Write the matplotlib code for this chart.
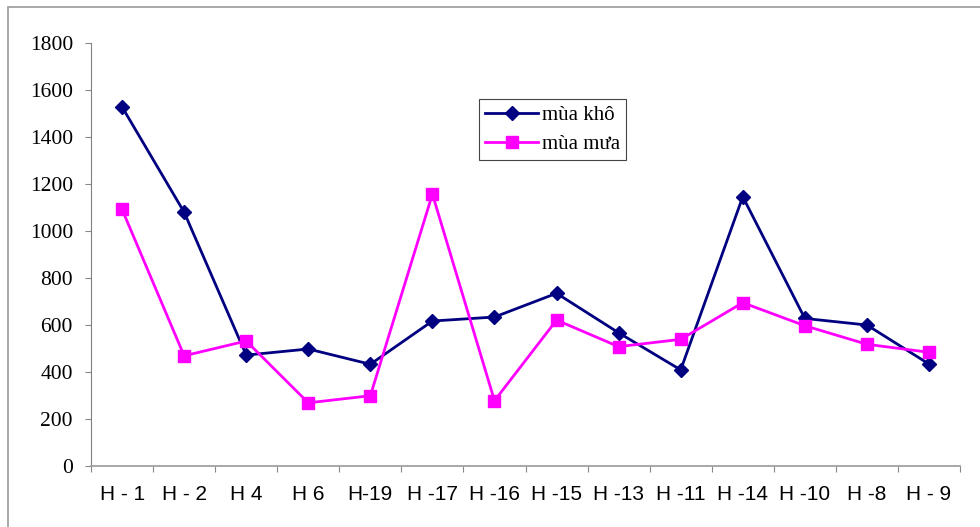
import numpy as np
import matplotlib.pyplot as plt
from matplotlib.patches import Rectangle

stations = ['H - 1', 'H - 2', 'H 4', 'H 6', 'H-19', 'H -17', 'H -16',
            'H -15', 'H -13', 'H -11', 'H -14', 'H -10', 'H -8', 'H - 9']
dry_season = [1528, 1080, 472, 498, 433, 617, 634, 735, 567, 409, 1146, 628, 600, 434]
wet_season = [1092, 469, 532, 269, 299, 1157, 278, 621, 508, 539, 695, 597, 518, 484]
y_ticks = [0, 200, 400, 600, 800, 1000, 1200, 1400, 1600, 1800]

fig = plt.figure(figsize=(9.8, 5.27), dpi=100)
ax = fig.add_axes([0.0929, 0.1157, 0.8867, 0.8027])

# outer frame of the chart area, only top and left edges fall inside
fig.patches.append(Rectangle((8 / 980, -0.1), 1.2, 1 - 7 / 527 + 0.1,
                             transform=fig.transFigure, fill=False,
                             edgecolor='#9a9a9a', linewidth=1.2))

x = np.arange(len(stations)) + 0.5
ax.plot(x, dry_season, color='#000080', linewidth=2, marker='D',
        markersize=7.5, label='mùa khô')
ax.plot(x, wet_season, color='#ff00ff', linewidth=2, marker='s',
        markersize=8, label='mùa mưa')

ax.set_xlim(0, len(stations))
ax.set_ylim(0, 1800)
ax.set_yticks(y_ticks)
ax.set_yticklabels([str(v) for v in y_ticks], family='Liberation Serif', fontsize=15.5)

ax.set_xticks(np.arange(len(stations) + 1))
ax.set_xticklabels([])
ax.set_xticks(x, minor=True)
ax.set_xticklabels(stations, minor=True, family='Liberation Sans', fontsize=15)
ax.tick_params(axis='x', which='major', direction='out', length=4, color='#888888')
ax.tick_params(axis='x', which='minor', length=0, pad=14)
ax.tick_params(axis='y', direction='out', length=4, color='#888888', pad=9)

for side in ['top', 'right']:
    ax.spines[side].set_visible(False)
ax.spines['left'].set_color('#808080')
ax.spines['bottom'].set_color('#a0a0a0')
ax.spines['bottom'].set_linewidth(1.3)

leg = ax.legend(loc='upper left', bbox_to_anchor=(0.4465, 0.8676), borderaxespad=0,
                fancybox=False, edgecolor='#444444', framealpha=1, handlelength=2.55,
                handletextpad=0.15, borderpad=0.3, labelspacing=0.45,
                prop={'family': 'Liberation Serif', 'size': 15})
leg.get_frame().set_linewidth(0.8)

fig.savefig('out.png', dpi=100)
